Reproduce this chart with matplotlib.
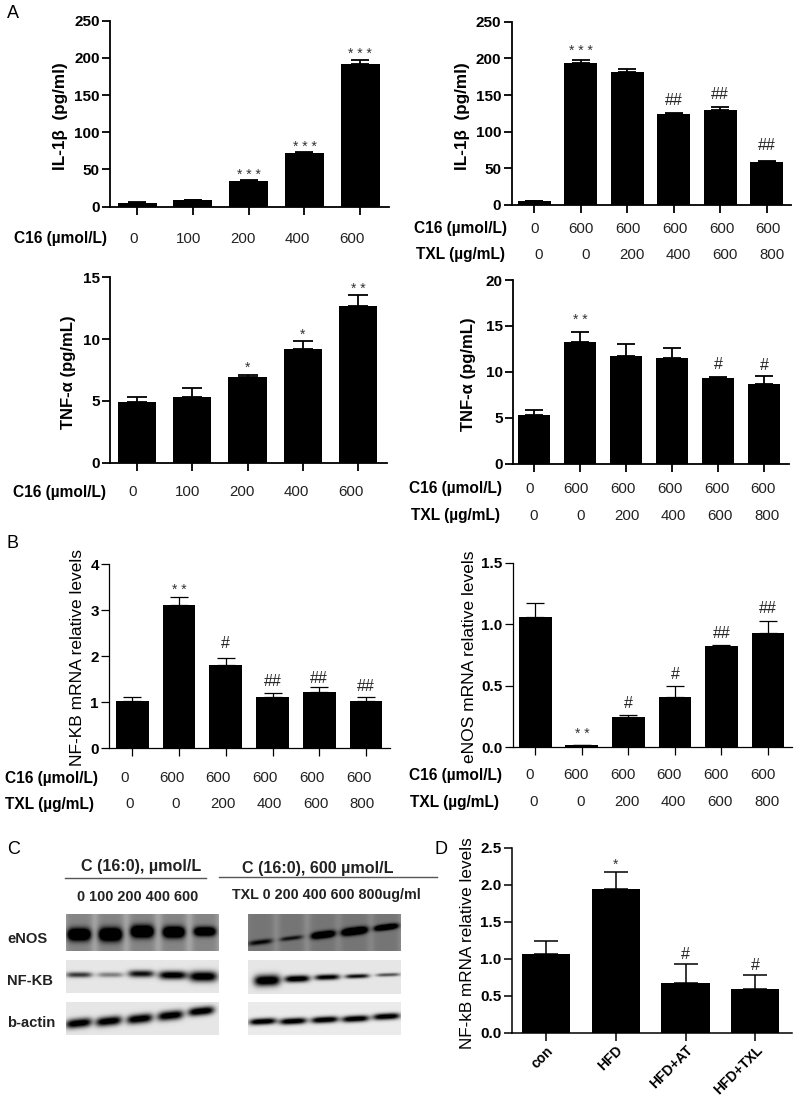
import numpy as np
import matplotlib
matplotlib.use("Agg")
import matplotlib.pyplot as plt

plt.rcParams['font.family'] = ['Liberation Sans', 'DejaVu Sans']

W, H = 800, 1103

# A - IL-1b, C16 dose
il1_dose = [5, 9, 35, 72, 192]
il1_dose_err = [1, 0.5, 1.5, 1.5, 5]
il1_dose_marks = ['', '', '***', '***', '***']
il1_dose_gaps = [0, 0, 9, 9, 10]

# A - IL-1b, TXL
il1_txl = [5, 194, 181, 124, 130, 59]
il1_txl_err = [1, 4, 5, 1, 3, 1]
il1_txl_marks = ['', '***', '', '##', '##', '##']
il1_txl_gaps = [0, 13, 0, 14, 14, 17]

# A - TNF-a, C16 dose
tnf_dose = [4.9, 5.3, 6.9, 9.2, 12.7]
tnf_dose_err = [0.45, 0.75, 0.2, 0.65, 0.9]
tnf_dose_marks = ['', '', '*', '*', '**']
tnf_dose_gaps = [0, 0, 11, 10, 10]

# A - TNF-a, TXL
tnf_txl = [5.35, 13.2, 11.75, 11.55, 9.35, 8.7]
tnf_txl_err = [0.55, 1.1, 1.3, 1.05, 0.1, 0.8]
tnf_txl_marks = ['', '**', '', '', '#', '#']
tnf_txl_gaps = [0, 16, 0, 0, 13, 12]

# B - NF-KB mRNA
nfkb_mrna = [1.02, 3.12, 1.81, 1.12, 1.22, 1.02]
nfkb_mrna_err = [0.1, 0.17, 0.15, 0.07, 0.1, 0.1]
nfkb_mrna_marks = ['', '**', '#', '##', '##', '##']
nfkb_mrna_gaps = [0, 11, 15, 13, 10, 11]

# B - eNOS mRNA
enos_mrna = [1.06, 0.015, 0.25, 0.41, 0.825, 0.925]
enos_mrna_err = [0.11, 0.005, 0.01, 0.085, 0.005, 0.105]
enos_mrna_marks = ['', '**', '#', '#', '##', '##']
enos_mrna_gaps = [0, 15, 13, 13, 13, 13]

# D - NF-kB in vivo
hfd_groups = ['con', 'HFD', 'HFD+AT', 'HFD+TXL']
hfd_vals = [1.07, 1.94, 0.68, 0.59]
hfd_err = [0.17, 0.23, 0.25, 0.19]
hfd_marks = ['', '*', '#', '#']
hfd_gaps = [0, 11, 11, 11]

c16_dose = ['0', '100', '200', '400', '600']
c16_fixed = ['0', '600', '600', '600', '600', '600']
txl_dose = ['0', '0', '200', '400', '600', '800']

# blots: band darkness per lane, read by eye
left_enos_dark = [0.95, 0.97, 0.97, 0.95, 0.85]
left_nfkb_dark = [0.6, 0.35, 0.75, 0.9, 0.95]
left_actin_dark = [0.92, 0.92, 0.92, 0.92, 0.95]
right_enos_dark = [0.4, 0.35, 0.8, 0.9, 0.8]
right_nfkb_dark = [1.0, 0.95, 0.85, 0.75, 0.5]
right_actin_dark = [0.95, 0.95, 0.95, 0.95, 0.95]

fig = plt.figure(figsize=(W / 100, H / 100), dpi=100)
fig.patch.set_facecolor('white')


def draw_panel(px, first, last, bar_w, ymax, ticks, fmt, vals, errs, marks, gaps,
               lw=1.3, cap=6.5):
    # px = (left, right, y0, ytop) in picture pixels
    left, right, y0, ytop = px
    ax = fig.add_axes([left / W, 1 - y0 / H, (right - left) / W, (y0 - ytop) / H])
    n = len(vals)
    step = (last - first) / (n - 1)
    xs = np.arange(n)
    ax.bar(xs, vals, width=bar_w / step, color='black')
    ax.errorbar(xs, vals, yerr=[np.zeros(n), errs], fmt='none', ecolor='black',
                elinewidth=lw, capsize=cap, capthick=lw)
    ax.set_xlim((left - first) / step, (right - first) / step)
    ax.set_ylim(0, ymax)
    ax.set_xticks(xs)
    ax.set_xticklabels([])
    ax.set_yticks(ticks)
    ax.set_yticklabels([fmt % t for t in ticks], fontweight='bold', fontsize=11)
    ax.tick_params(width=lw, length=6, pad=1.5)
    for side in ['top', 'right']:
        ax.spines[side].set_visible(False)
    for side in ['left', 'bottom']:
        ax.spines[side].set_linewidth(lw)
    ax.patch.set_alpha(0)
    for x, v, e, m, g in zip(xs, vals, errs, marks, gaps):
        if m == '':
            continue
        if m[0] == '*':
            ax.annotate(' '.join(m), (x, v + e), xytext=(0, (g - 8) * 0.72),
                        textcoords='offset points', ha='center', va='baseline',
                        fontsize=10, color='#333333')
        else:
            ax.annotate(m, (x, v + e), xytext=(0, (g - 5.5) * 0.72),
                        textcoords='offset points', ha='center', va='baseline',
                        fontsize=11.5, color='#222222')
    return ax


draw_panel((110, 389, 206.7, 20.7), 137, 360.3, 39, 250, [0, 50, 100, 150, 200, 250], '%d',
           il1_dose, il1_dose_err, il1_dose_marks, il1_dose_gaps)
draw_panel((511.7, 790.7, 205, 21.7), 534.3, 766.7, 32.7, 250, [0, 50, 100, 150, 200, 250], '%d',
           il1_txl, il1_txl_err, il1_txl_marks, il1_txl_gaps)
draw_panel((110, 386.7, 462.7, 277.3), 137, 358, 38.3, 15, [0, 5, 10, 15], '%d',
           tnf_dose, tnf_dose_err, tnf_dose_marks, tnf_dose_gaps, cap=7.5)
draw_panel((513.3, 789, 463.7, 280), 534.3, 764.3, 32, 20, [0, 5, 10, 15, 20], '%d',
           tnf_txl, tnf_txl_err, tnf_txl_marks, tnf_txl_gaps)
draw_panel((109.3, 390, 748, 564.3), 132.3, 366, 32.7, 4, [0, 1, 2, 3, 4], '%d',
           nfkb_mrna, nfkb_mrna_err, nfkb_mrna_marks, nfkb_mrna_gaps, lw=0.9)
draw_panel((512.7, 791.7, 747.3, 562.7), 535.3, 768, 32.7, 1.5, [0, 0.5, 1.0, 1.5], '%.1f',
           enos_mrna, enos_mrna_err, enos_mrna_marks, enos_mrna_gaps, lw=0.9)
ax_d = draw_panel((511.7, 791.7, 1033, 847.7), 546, 755.3, 48.3, 2.5, [0, 0.5, 1.0, 1.5, 2.0, 2.5], '%.1f',
                  hfd_vals, hfd_err, hfd_marks, hfd_gaps, lw=1.1, cap=8.5)
ax_d.set_xticklabels(hfd_groups, rotation=45, ha='right', rotation_mode='anchor',
                     fontweight='bold', fontsize=10)

# everything else sits in picture pixels on a full-figure layer
page = fig.add_axes([0, 0, 1, 1])
page.axis('off')
page.patch.set_alpha(0)


def ylab(x, y, label, size=10.5, weight='bold'):
    page.text(x, y, label, rotation=90, ha='center', va='center', fontsize=size, fontweight=weight)


ylab(61, 116, 'IL-1β  (pg/ml)', 12.3)
ylab(462, 116, 'IL-1β  (pg/ml)', 12.3)
ylab(68, 372.5, 'TNF-α (pg/mL)', 12)
ylab(469, 374, 'TNF-α (pg/mL)', 12)
ylab(77, 658, 'NF-KB mRNA relative levels', 12.5, 'normal')
ylab(470, 657, 'eNOS mRNA relative levels', 12.5, 'normal')
ylab(467, 943, 'NF-kB mRNA relative levels', 12.3, 'normal')


def row(label, x, y, first, step, values):
    page.text(x, y, label, ha='left', va='center', fontsize=11.2, fontweight='bold')
    for i, v in enumerate(values):
        page.text(first + i * step, y, v, ha='center', va='center', fontsize=10.8, color='#222222')


c16 = 'C16 (µmol/L)'
txl = 'TXL (µg/mL)'
row(c16, 14, 238.7, 134, 54.5, c16_dose)
row(c16, 414, 228.7, 534.7, 46.7, c16_fixed)
row(txl, 415.7, 255, 539, 46.6, txl_dose)
row(c16, 12.7, 492.3, 132.7, 54.5, c16_dose)
row(c16, 409.3, 488.7, 529.3, 46.8, c16_fixed)
row(txl, 410.7, 515.7, 533.7, 46.6, txl_dose)
row(c16, 5.3, 778, 125, 46.7, c16_fixed)
row(txl, 5.3, 804.3, 129.3, 46.6, txl_dose)
row(c16, 409.3, 775.3, 529.3, 46.7, c16_fixed)
row(txl, 410, 802, 533.7, 46.6, txl_dose)

for letter, x, y in [('A', 7, 14), ('B', 7, 544), ('C', 7, 850), ('D', 434, 850)]:
    page.text(x, y, letter, ha='left', va='center', fontsize=13)


def blot(px, centers, ys, half_w, sigma, dark, tilt, bg, lane=0.0):
    # px = (left, right, top, bottom); bands made from per-lane values
    left, right, top, bottom = px
    xx, yy = np.meshgrid(np.arange(left, right), np.arange(top, bottom))
    img = np.full(xx.shape, float(bg))
    for c, y, hw, s, d in zip(centers, ys, half_w, sigma, dark):
        u = (xx - c) / hw
        if lane:
            img -= lane * np.exp(-((xx - c) / (hw + 2)) ** 6)
        band = np.exp(-u ** 4) * np.exp(-(((yy - top) - y - tilt * (xx - c)) / s) ** 2)
        img -= d * band * 1.15
    page.imshow(np.clip(img, 0, 1), cmap='gray', vmin=0, vmax=1, aspect='auto',
                extent=(left, right, bottom, top), interpolation='bilinear')


blot((66, 219, 914, 951), [78.7, 110, 141.7, 173.3, 204.3], [20, 20, 17, 17.7, 17],
     [11.5, 11.5, 11.5, 11, 11], [6, 6.5, 6, 5.5, 4.5], left_enos_dark, 0, 0.66, 0.14)
blot((66, 219, 960, 993), [78.7, 110, 140.7, 172.3, 202.7], [14.3, 14.3, 13.3, 14.7, 16],
     [13, 13, 13, 14, 14], [2.8, 2.6, 3.6, 4.2, 5.2], left_nfkb_dark, 0, 0.9)
blot((66, 219, 1002, 1035), [78.3, 108.3, 139.3, 170, 200.7], [20.7, 18.7, 16.3, 13, 8.7],
     [13, 13, 13, 13, 13], [4.6, 4.6, 4.6, 4.6, 4.2], left_actin_dark, -0.1, 0.9)
blot((248, 401, 914, 951), [260, 291, 322.7, 354, 385.7], [27.7, 23.7, 20.3, 16.7, 12.7],
     [12, 11.5, 12, 13, 12], [2.6, 2.2, 3.4, 3.6, 2.8], right_enos_dark, -0.12, 0.56, 0.1)
blot((248, 401, 960, 994), [266.7, 296.7, 326.7, 356.7, 387.7], [20, 18.3, 16.7, 15.7, 14.3],
     [13, 12.5, 12.5, 12, 12], [5.5, 3.4, 2.8, 2.2, 1.8], right_nfkb_dark, -0.03, 0.9)
blot((248, 401, 1002, 1035), [262.3, 292.7, 324.3, 355, 386], [19, 18.7, 17.3, 16.3, 14],
     [13.5, 13.5, 13.5, 13.5, 13.5], [3.2, 3.2, 3.2, 3.2, 3.2], right_actin_dark, -0.05, 0.92)

page.text(141, 867, 'C (16:0), µmol/L', ha='center', va='center', fontsize=11.6, fontweight='bold', color='#222222')
page.text(318, 869, 'C (16:0), 600 µmol/L', ha='center', va='center', fontsize=11.6, fontweight='bold', color='#222222')
page.plot([65, 206], [878, 878], color='#555555', lw=1)
page.plot([219, 437], [877, 877], color='#555555', lw=1)
page.text(137.5, 897, '0 100 200 400 600', ha='center', va='center', fontsize=10.4, fontweight='bold', color='#222222')
page.text(326, 895, 'TXL 0 200 400 600 800ug/ml', ha='center', va='center', fontsize=10.3, fontweight='bold', color='#222222')
for name, y in [('eNOS', 939), ('NF-KB', 981), ('b-actin', 1023)]:
    page.text(7, y, name, ha='left', va='center', fontsize=10.6, fontweight='bold', color='#222222')

page.set_xlim(0, W)
page.set_ylim(H, 0)

fig.savefig('out.png', dpi=100)
